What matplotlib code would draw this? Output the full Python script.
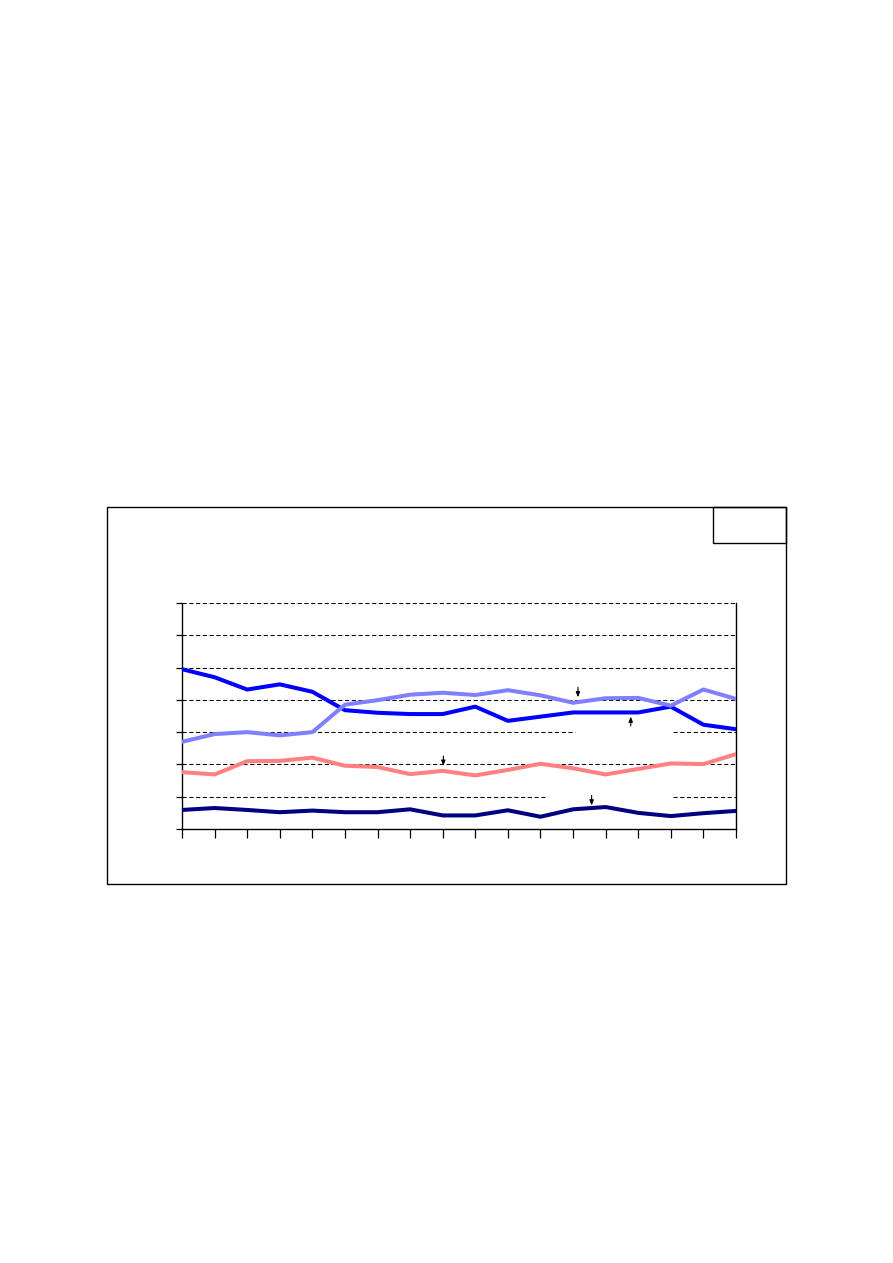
import matplotlib
matplotlib.use("Agg")
import matplotlib.pyplot as plt
from matplotlib.patches import Rectangle

# Data (18 periods)
periods = list(range(18))
series_blue = [49.5, 47.0, 43.2, 44.8, 42.5, 36.8, 36.0, 35.6, 35.6, 37.9, 33.5, 34.8, 36.1, 36.1, 36.1, 37.9, 32.3, 30.9]
series_lightblue = [27.0, 29.4, 30.0, 29.0, 30.0, 38.5, 39.9, 41.6, 42.2, 41.5, 43.0, 41.4, 39.1, 40.5, 40.6, 38.2, 43.2, 40.3]
series_pink = [17.6, 16.9, 21.0, 21.1, 22.1, 19.6, 19.2, 17.0, 18.0, 16.6, 18.3, 20.2, 18.8, 16.9, 18.6, 20.3, 20.1, 23.2]
series_navy = [5.9, 6.5, 5.9, 5.2, 5.7, 5.2, 5.2, 6.1, 4.2, 4.2, 5.8, 3.8, 6.1, 6.8, 5.0, 4.0, 4.9, 5.6]

fig = plt.figure(figsize=(8.93, 12.63), dpi=100)
fig.patch.set_facecolor("white")

# outer chart frame and small box
fig.patches.append(Rectangle((107/893, 1-884/1263), (786-107)/893, (884-507)/1263,
                             transform=fig.transFigure, fill=False, edgecolor="black", lw=1.0))
fig.patches.append(Rectangle((713/893, 1-543/1263), (786-713)/893, (543-507)/1263,
                             transform=fig.transFigure, fill=False, edgecolor="black", lw=1.0))

ax = fig.add_axes([182/893, 1-829/1263, (736-182)/893, (829-603)/1263])
ax.set_xlim(0, 17)
ax.set_ylim(0, 70)

# gridlines (some interrupted)
grid_kw = dict(colors="black", linewidth=0.75, linestyles=(0, (4, 2.5)), zorder=1)
for yv in [20, 40, 50, 60, 70]:
    ax.hlines(yv, 0, 17, **grid_kw)
ax.hlines(30, 0, 12.06, **grid_kw)
ax.hlines(30, 15.06, 17, **grid_kw)
ax.hlines(10, 0, 11.2, **grid_kw)
ax.hlines(10, 15.06, 17, **grid_kw)

lw = 2.9
ax.plot(periods, series_blue, color="#0000FF", lw=lw, zorder=3)
ax.plot(periods, series_lightblue, color="#8080FF", lw=lw, zorder=3)
ax.plot(periods, series_pink, color="#FF8080", lw=lw, zorder=3)
ax.plot(periods, series_navy, color="#000080", lw=lw, zorder=3)

# small annotation arrows
arrow_kw = dict(arrowstyle="-|>,head_length=0.3,head_width=0.12", color="black", lw=0.8,
                shrinkA=0, shrinkB=0)
ax.annotate("", xy=(12.15, 40.8), xytext=(12.15, 43.9), arrowprops=arrow_kw)
ax.annotate("", xy=(13.77, 34.8), xytext=(13.77, 31.9), arrowprops=arrow_kw)
ax.annotate("", xy=(8.02, 19.6), xytext=(8.02, 22.6), arrowprops=arrow_kw)
ax.annotate("", xy=(12.57, 7.3), xytext=(12.57, 10.4), arrowprops=arrow_kw)

ax.set_xticks(periods)
ax.set_yticks(range(0, 71, 10))
ax.set_xticklabels([])
ax.set_yticklabels([])
ax.tick_params(axis="x", direction="out", length=6.5, width=0.9)
ax.tick_params(axis="y", direction="out", length=4.3, width=0.9)
ax.spines["top"].set_visible(False)
for s in ["left", "bottom", "right"]:
    ax.spines[s].set_linewidth(1.0)

fig.savefig("out.png", dpi=100)
